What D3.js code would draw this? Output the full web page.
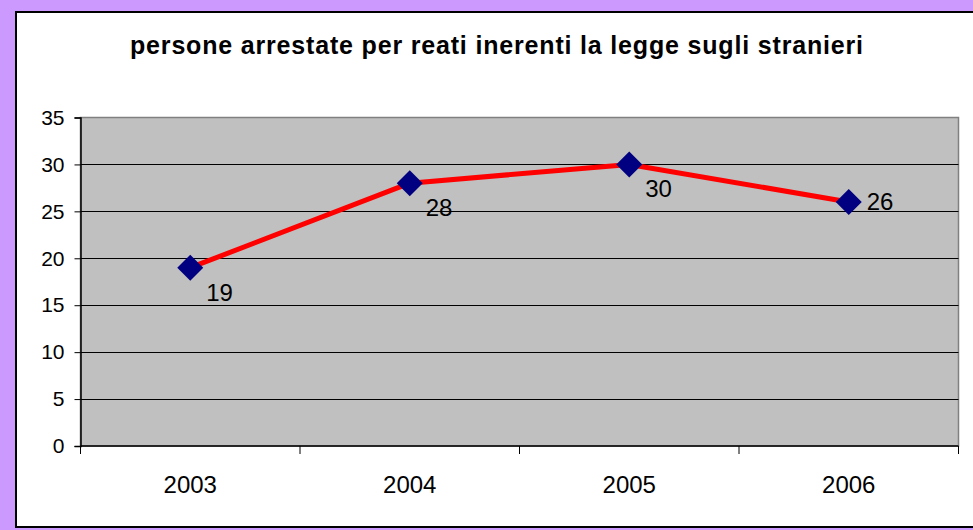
<!DOCTYPE html>
<html>
<head>
<meta charset="utf-8">
<script src="https://cdn.jsdelivr.net/npm/d3@7"></script>
<style>
  body { margin: 0; background: #cc99ff; }
  svg { display: block; font-family: Arial, "Liberation Sans", sans-serif; }
</style>
</head>
<body>
<div id="chart"></div>
<script>
var titleText = "persone arrestate per reati inerenti la legge sugli stranieri";
var years = ["2003", "2004", "2005", "2006"];
var arrests = [19, 28, 30, 26];
var yTicks = [0, 5, 10, 15, 20, 25, 30, 35];

var W = 973, H = 530;
var plot = { left: 80.5, right: 958.5, top: 117.5, bottom: 446 };

var svg = d3.select("#chart")
    .append("svg")
    .attr("width", W)
    .attr("height", H);

// chart area (white box with black frame, cut at the right edge)
svg.append("rect")
    .attr("x", 16).attr("y", 12)
    .attr("width", W + 20).attr("height", 515)
    .attr("fill", "#ffffff")
    .attr("stroke", "#000000")
    .attr("stroke-width", 2);

svg.append("text")
    .attr("x", 130)
    .attr("y", 54)
    .attr("textLength", 733)
    .attr("lengthAdjust", "spacing")
    .style("font-size", "25px")
    .style("font-weight", "bold")
    .text(titleText);

var x = d3.scaleBand()
    .domain(years)
    .range([plot.left, plot.right]);

var y = d3.scaleLinear()
    .domain([0, 35])
    .range([plot.bottom, plot.top]);

// plot background
svg.append("rect")
    .attr("x", plot.left).attr("y", plot.top)
    .attr("width", plot.right - plot.left)
    .attr("height", plot.bottom - plot.top)
    .attr("fill", "#c0c0c0")
    .attr("stroke", "#808080")
    .attr("stroke-width", 1.5);

// gridlines
svg.selectAll(".grid")
    .data(yTicks.filter(function(d){ return d > 0 && d < 35; }))
    .enter()
    .append("line")
    .attr("class", "grid")
    .attr("x1", plot.left).attr("x2", plot.right)
    .attr("y1", function(d){ return Math.round(y(d)) + 0.5; })
    .attr("y2", function(d){ return Math.round(y(d)) + 0.5; })
    .attr("stroke", "#000000")
    .attr("stroke-width", 1);

// y axis
var yAxis = d3.axisLeft(y).tickValues(yTicks).tickSize(6).tickPadding(10);
var gy = svg.append("g")
    .attr("transform", "translate(" + plot.left + ",0)")
    .call(yAxis);
gy.select(".domain").attr("stroke", "#000").attr("stroke-width", 1.5);
gy.selectAll(".tick line").attr("stroke", "#000");
gy.selectAll(".tick text")
    .style("font-size", "21px")
    .attr("fill", "#000")
    .attr("font-family", null);

// x axis: ticks on category boundaries
var boundaries = years.map(function(d){ return x(d); }).concat([plot.right]);
svg.append("line")
    .attr("x1", plot.left).attr("x2", plot.right)
    .attr("y1", plot.bottom).attr("y2", plot.bottom)
    .attr("stroke", "#000").attr("stroke-width", 1.5);
svg.selectAll(".xtick")
    .data(boundaries)
    .enter()
    .append("line")
    .attr("class", "xtick")
    .attr("x1", function(d){ return d; }).attr("x2", function(d){ return d; })
    .attr("y1", plot.bottom).attr("y2", plot.bottom + 8)
    .attr("stroke", "#000");
svg.selectAll(".xlabel")
    .data(years)
    .enter()
    .append("text")
    .attr("class", "xlabel")
    .attr("x", function(d){ return x(d) + x.bandwidth() / 2; })
    .attr("y", 493)
    .attr("text-anchor", "middle")
    .style("font-size", "24px")
    .text(function(d){ return d; });

var pts = years.map(function(d, i){
    return { year: d, value: arrests[i], cx: x(d) + x.bandwidth() / 2, cy: y(arrests[i]) };
});

var line = d3.line()
    .x(function(d){ return d.cx; })
    .y(function(d){ return d.cy; });

svg.append("path")
    .datum(pts)
    .attr("d", line)
    .attr("fill", "none")
    .attr("stroke", "#ff0000")
    .attr("stroke-width", 5)
    .attr("stroke-linejoin", "round");

var r = 13;
svg.selectAll(".marker")
    .data(pts)
    .enter()
    .append("path")
    .attr("class", "marker")
    .attr("d", function(d){
        return "M" + d.cx + "," + (d.cy - r) + "L" + (d.cx + r) + "," + d.cy +
               "L" + d.cx + "," + (d.cy + r) + "L" + (d.cx - r) + "," + d.cy + "Z";
    })
    .attr("fill", "#000080");

// data labels: below-right, the last one to the right
svg.selectAll(".dlabel")
    .data(pts)
    .enter()
    .append("text")
    .attr("class", "dlabel")
    .attr("x", function(d, i){ return d.cx + (i === pts.length - 1 ? 18 : 16); })
    .attr("y", function(d, i){ return d.cy + (i === pts.length - 1 ? 8 : 33); })
    .style("font-size", "24px")
    .text(function(d){ return d.value; });
</script>
</body>
</html>
